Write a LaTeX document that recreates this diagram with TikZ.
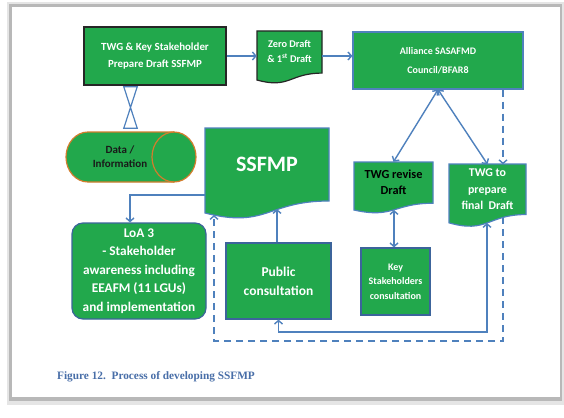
\documentclass[tikz,border=0pt]{standalone}
\usepackage{fontspec}
\setmainfont{Carlito}
\newfontfamily\capfont{Liberation Serif}
\usetikzlibrary{arrows.meta}
\definecolor{gfill}{RGB}{34,168,76}
\definecolor{bline}{RGB}{79,129,189}
\definecolor{dline}{RGB}{60,100,155}
\definecolor{oline}{RGB}{210,125,45}
\definecolor{capblue}{RGB}{72,110,168}
\newcommand\docpath[5]{\path[#1] (#2,#3) -- (#4,#3) -- (#4,{#3+0.802*#5}) .. controls ({(#2+#4)/2},{#3+0.802*#5}) and ({(#2+#4)/2},{#3+1.1075*#5}) .. (#2,{#3+0.934*#5}) -- cycle;}
\begin{document}
\begin{tikzpicture}[x=1pt,y=-1pt,
  box/.style={draw=bline,fill=gfill,line width=1.2pt,align=center,text=white,inner sep=0pt},
  docfill/.style={draw=bline,fill=gfill,line width=1.2pt},
  doctext/.style={align=center,text=white,inner sep=0pt},
  conn/.style={draw=bline,line width=1.4pt,-{Straight Barb[length=3.5pt,width=8pt]}},
  biconn/.style={draw=bline,line width=1.4pt,{Straight Barb[length=3.5pt,width=8pt]}-{Straight Barb[length=3.5pt,width=8pt]}},
  dconn/.style={draw=bline,line width=1.4pt,dash pattern=on 7pt off 5pt},
  fs/.style n args={2}{font={\fontsize{#1}{#2}\selectfont\bfseries}}]
\useasboundingbox (0,0) rectangle (564,417);
% page
\fill[white] (0,0) rectangle (564,417);
\fill[black!10] (7,2) rectangle (564,405);
\fill[black!28] (9,4) rectangle (562,401);
\fill[white] (12,7) rectangle (560,397);
% TWG
\node[box,draw=black!85,fs={10.9}{17},minimum width=142pt,minimum height=58pt] (twg) at (155,56) {TWG \& Key Stakeholder\\Prepare Draft SSFMP};
% Zero draft
\docpath{docfill,draw=black!85}{257}{31}{322}{52.5}
\node[doctext,fs={10.3}{15},minimum width=65pt,minimum height=42pt] (zero) at (289.5,51) {Zero Draft\\\& 1\textsuperscript{st} Draft};
% Alliance
\node[box,fs={10}{19},minimum width=170pt,minimum height=57pt] (all) at (438,60.5) {Alliance SASAFMD\\Council/BFAR8};
% collate
\node[minimum width=13pt,minimum height=41pt,inner sep=0pt] (coll) at (130.5,107.5) {};
\draw[bline,line width=1.2pt,fill=white] (coll.north west) -- (coll.north east) -- (coll.south west) -- (coll.south east) -- cycle;
% Data (horizontal cylinder)
\node[minimum width=130pt,minimum height=50pt,inner sep=0pt] (data) at (131,157) {};
\path[draw=oline,fill=gfill,line width=1.2pt] (88,132) -- (174,132) arc[start angle=90,end angle=-90,x radius=22pt,y radius=25pt] -- (88,182) arc[start angle=270,end angle=90,x radius=22pt,y radius=25pt] -- cycle;
\draw[oline,line width=1.2pt] (174,132) arc[start angle=90,end angle=270,x radius=22pt,y radius=25pt];
\node[text=black!90,fs={11}{14},align=center,inner sep=0pt] (datatxt) at (data.center) [xshift=-11pt] {Data /\\Information};
% SSFMP
\docpath{docfill}{205}{128}{329}{91}
\node[doctext,fs={22}{26},minimum width=124pt,minimum height=73pt] (ssfmp) at (267,164.5) {SSFMP};
% LoA
\node[box,draw=dline,rounded corners=11pt,fs={13.3}{18.5},minimum width=134pt,minimum height=96pt] (loa) at (139,271) {LoA 3\\- Stakeholder\\awareness including\\EEAFM (11 LGUs)\\and implementation};
% Public
\node[box,draw=dline,fs={13.5}{19},minimum width=105pt,minimum height=76pt] (pub) at (278.5,281) {Public\\consultation};
% TWG revise
\docpath{docfill}{354}{162}{433}{51.4}
\node[doctext,text=black,fs={12.3}{16},minimum width=79pt,minimum height=41pt] (rev) at (393.5,182.5) {TWG revise\\Draft};
% TWG prepare
\docpath{docfill}{449}{164}{526}{63}
\node[doctext,fs={11.9}{16.5},minimum width=77pt,minimum height=50pt] (prep) at (487.5,189.5) {TWG to\\prepare\\final~ Draft};
% Key
\node[box,draw=dline,fs={10}{14.5},minimum width=69pt,minimum height=67pt] (key) at (395.5,281.5) {Key\\Stakeholders\\consultation};
% wave points
\coordinate (ssfmpL) at (214,215);
\coordinate (ssfmpM) at (277,209);
\coordinate (prepM) at (487,223);
\coordinate (prepR) at (503,217);
\coordinate (revM) at (394,210);
% connectors
\draw[conn] (twg.east) -- (twg.east -| zero.west);
\draw[conn] (twg.east -| zero.east) -- (twg.east -| all.west);
\draw[biconn] (all.south) -- (rev.north);
\draw[biconn] (all.south) -- (prep.north);
\draw[dconn,-{Straight Barb[length=3.5pt,width=8pt]}] (all.south -| prepR) -- (prep.north -| prepR);
\draw[dconn,-{Straight Barb[length=3.5pt,width=8pt]}] (prepR) -- (prepR |- 0,341) -- (ssfmpL |- 0,341) -- (ssfmpL);
\draw[conn] (pub.north -| ssfmpM) -- (ssfmpM);
\draw[biconn] (revM) -- (key.north -| revM);
\draw[biconn] (pub.south) -- (pub.south |- 0,332) -- (prepM |- 0,332) -- (prepM);
\draw[conn] (ssfmp.west |- 0,195) -- (130,195) -- (loa.north -| 130,0);
% caption
\node[anchor=west,inner sep=0pt,font={\capfont\bfseries\fontsize{11.3}{13}\selectfont},text=capblue] (cap) at (57,377) {Figure 12.\ \ Process of developing SSFMP};
\end{tikzpicture}
\end{document}
